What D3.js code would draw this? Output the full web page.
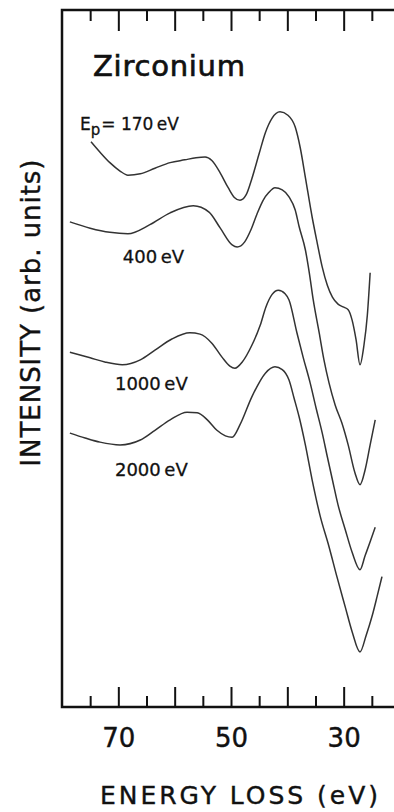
<!DOCTYPE html>
<html>
<head>
<meta charset="utf-8">
<script src="https://cdn.jsdelivr.net/npm/d3@7"></script>
<style>
  html, body { margin: 0; padding: 0; background: #fff; }
  svg text { font-family: 'DejaVu Sans', sans-serif; fill: #111; }
</style>
</head>
<body>
<div id="chart"></div>
<script>
// energy loss (eV), intensity (arb. units)
const spectrum170 = [
  [74.85, 81.1], [73.25, 79.6], [71.5, 78.1], [69.7, 76.9], [68.3, 76.3],
  [66.1, 76.5], [63.5, 77.3], [60.8, 78.1], [58.2, 78.5], [56.2, 78.8],
  [54.6, 78.9], [53.4, 78.4], [51.9, 76.6], [50.5, 74.5], [49.4, 73.1],
  [48.4, 72.7], [47.3, 73.5], [46.3, 75.8], [45.0, 79.4], [43.9, 82.4],
  [42.7, 84.5], [41.3, 85.4], [39.9, 84.9], [38.6, 83.2], [37.7, 80.2],
  [36.8, 76.0], [35.6, 70.3], [34.7, 66.6], [33.8, 63.1], [32.9, 60.5],
  [32.0, 58.8], [31.0, 57.8], [30.1, 57.4], [29.2, 57.0], [28.5, 55.5],
  [27.8, 52.7], [27.1, 49.1], [26.4, 51.9], [25.8, 56.2], [25.3, 62.3]
];
const spectrum400 = [
  [78.6, 69.6], [75.0, 68.7], [71.5, 68.1], [68.3, 67.9], [64.4, 69.2],
  [60.8, 70.9], [56.7, 71.9], [53.9, 71.0], [51.9, 68.7], [49.8, 66.3],
  [48.9, 66.0], [47.6, 66.7], [46.5, 68.4], [45.4, 70.7], [44.3, 72.7],
  [43.3, 73.8], [42.2, 74.5], [40.9, 74.2], [39.7, 73.2], [38.6, 71.3],
  [37.9, 68.9], [36.8, 65.6], [36.1, 62.3], [35.4, 58.4], [34.35, 53.7],
  [33.5, 49.8], [32.6, 46.5], [31.5, 43.3], [30.3, 40.7], [29.2, 37.6],
  [28.0, 33.6], [27.1, 31.9], [26.2, 34.0], [25.3, 37.6], [24.4, 41.2]
];
const spectrum1000 = [
  [78.6, 50.9], [75.0, 50.1], [72.4, 49.5], [69.3, 49.1], [66.1, 49.8],
  [63.5, 51.2], [60.5, 52.8], [57.3, 53.7], [55.5, 53.5], [53.4, 52.2],
  [51.6, 50.2], [50.2, 48.9], [49.3, 48.6], [48.0, 49.5], [46.3, 51.9],
  [44.8, 54.8], [43.8, 57.4], [42.7, 59.2], [41.6, 59.8], [40.4, 59.3],
  [39.7, 58.4], [38.3, 53.7], [37.2, 50.2], [35.95, 46.5], [34.9, 42.9],
  [33.8, 39.3], [32.9, 35.9], [32.0, 32.6], [31.0, 29.0], [29.7, 25.4],
  [28.5, 22.2], [27.1, 19.7], [26.2, 21.7], [25.3, 23.7], [24.4, 25.8]
];
const spectrum2000 = [
  [78.6, 39.3], [75.9, 38.6], [73.25, 38.0], [69.7, 37.6], [66.1, 38.3],
  [63.5, 39.7], [60.8, 41.2], [57.8, 42.3], [56.0, 42.2], [54.2, 41.2],
  [52.5, 39.7], [51.0, 38.9], [49.8, 38.7], [48.4, 40.5], [46.3, 44.5],
  [43.9, 47.9], [42.2, 48.8], [40.9, 48.4], [39.7, 46.9], [38.8, 44.3],
  [37.9, 41.6], [36.8, 37.6], [35.6, 32.6], [34.2, 27.5], [32.6, 23.0],
  [31.2, 18.7], [29.7, 14.3], [28.5, 10.8], [27.1, 7.9], [26.0, 10.3],
  [24.9, 13.2], [24.05, 15.9], [23.2, 18.7]
];
const seriesLabels = ['170 eV', '400 eV', '1000 eV', '2000 eV'];
const majorTicks = [70, 60, 50, 40, 30];
const minorTicks = [75, 65, 55, 45, 35, 25];
const labelledTicks = [70, 50, 30];

const width = 394;
const height = 812;
const margin = { top: 10, left: 62, bottom: 105 };
const plotW = 338;
const plotH = height - margin.top - margin.bottom;

const svg = d3.select('#chart')
  .append('svg')
  .attr('width', width)
  .attr('height', height);

const x = d3.scaleLinear().domain([80, 20]).range([margin.left, margin.left + plotW]);
const y = d3.scaleLinear().domain([0, 100]).range([margin.top + plotH, margin.top]);

// frame (right edge falls outside the picture)
svg.append('rect')
  .attr('x', x(80))
  .attr('y', y(100))
  .attr('width', x(20) - x(80))
  .attr('height', y(0) - y(100))
  .attr('fill', 'none')
  .attr('stroke', '#111')
  .attr('stroke-width', 2.5);

function drawTicks(axisFn, values, size, yPos, withLabels) {
  const g = svg.append('g')
    .attr('transform', `translate(0,${yPos})`)
    .call(axisFn(x)
      .tickValues(values)
      .tickSizeInner(-size)
      .tickSizeOuter(0)
      .tickPadding(22)
      .tickFormat(d => withLabels && labelledTicks.includes(d) ? d : ''));
  g.select('.domain').remove();
  g.selectAll('line').attr('stroke', '#111').attr('stroke-width', 2);
  g.selectAll('text')
    .style('font-family', "'DejaVu Sans', sans-serif")
    .style('font-size', '26px')
    .attr('fill', '#111')
    .attr('stroke', '#111')
    .attr('stroke-width', 0.4);
  return g;
}

drawTicks(d3.axisBottom, majorTicks, 20, y(0), true);
drawTicks(d3.axisBottom, minorTicks, 11, y(0), false);
drawTicks(d3.axisTop, majorTicks, 21, y(100), false);
drawTicks(d3.axisTop, minorTicks, 11, y(100), false);

// spectra
const line = d3.line()
  .x(d => x(d[0]))
  .y(d => y(d[1]))
  .curve(d3.curveMonotoneX);

[spectrum170, spectrum400, spectrum1000, spectrum2000].forEach(s => {
  svg.append('path')
    .datum(s)
    .attr('d', line)
    .attr('fill', 'none')
    .attr('stroke', '#333')
    .attr('stroke-width', 1.5)
    .attr('stroke-linejoin', 'round');
});

// labels
svg.append('text')
  .attr('x', x(74.5))
  .attr('y', y(90.5))
  .style('font-size', '29px')
  .attr('stroke', '#111')
  .attr('stroke-width', 0.7)
  .attr('textLength', 152)
  .text('Zirconium');

const ep = svg.append('text')
  .attr('x', x(76.8))
  .attr('y', y(82.8))
  .style('font-size', '17px')
  .attr('stroke', '#111')
  .attr('stroke-width', 0.3);
ep.append('tspan').text('E');
ep.append('tspan').attr('dy', 5).style('font-size', '15px').text('p');
ep.append('tspan').attr('dy', -5).attr('dx', 1).text('= ' + seriesLabels[0].replace(' ', '\u2009'));

const labelPos = [null, [69.2, 63.7], [70.6, 45.5], [70.6, 33.1]];
seriesLabels.forEach((t, i) => {
  if (!labelPos[i]) return;
  svg.append('text')
    .attr('x', x(labelPos[i][0]))
    .attr('y', y(labelPos[i][1]))
    .style('font-size', '18px')
    .attr('stroke', '#111')
    .attr('stroke-width', 0.3)
    .text(t.replace(' ', '\u2009'));
});

svg.append('text')
  .attr('x', 239)
  .attr('y', 804)
  .attr('text-anchor', 'middle')
  .style('font-size', '25px')
  .attr('stroke', '#111')
  .attr('stroke-width', 0.4)
  .attr('textLength', 278)
  .text('ENERGY LOSS (eV)');

svg.append('text')
  .attr('transform', 'translate(40,313) rotate(-90)')
  .attr('text-anchor', 'middle')
  .style('font-size', '26px')
  .attr('stroke', '#111')
  .attr('stroke-width', 0.4)
  .attr('textLength', 307)
  .text('INTENSITY (arb. units)');
</script>
</body>
</html>
